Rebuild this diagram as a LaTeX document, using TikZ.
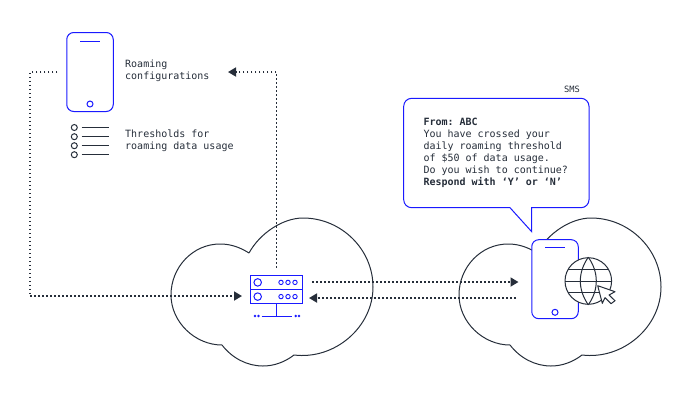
\documentclass[tikz,border=0pt]{standalone}
\usepackage{fontspec}
\usepackage{xcolor}
\setmonofont{DejaVu Sans Mono}
\usetikzlibrary{arrows.meta, positioning, shapes, calc}
\definecolor{lineblue}{RGB}{26, 26, 255}
\definecolor{inkgray}{RGB}{38, 46, 58}

\tikzset{
    cloudshape/.pic={
        \draw[cloudline] (249,253) .. controls (260,233) and (283,218) .. (303,218)
            .. controls (341,218) and (373,249) .. (373,287)
            .. controls (373,327) and (335,360) .. (294,355)
            .. controls (285,362) and (274,366) .. (263,366)
            .. controls (247,366) and (232,358) .. (222,345)
            .. controls (195,345) and (171,322) .. (171,295)
            .. controls (171,267) and (193,244) .. (220,244)
            .. controls (232,244) and (241,248) .. (249,253);
    }
}

\begin{document}
\begin{tikzpicture}[
    x=1pt, y=-1pt,
    cloudline/.style={draw=inkgray, line width=1pt},
    phonebody/.style={draw=lineblue, fill=white, line width=1pt, rounded corners=7pt, minimum width=46.5pt, minimum height=79pt, inner sep=0pt},
    phonebtn/.style={circle, draw=lineblue, fill=white, line width=1pt, minimum size=6pt, inner sep=0pt},
    blueline/.style={draw=lineblue, line width=1pt},
    flow/.style={draw=inkgray, line width=1.7pt, dash pattern=on 1.6pt off 2.4pt, -{Triangle[length=8pt, width=9pt]}},
    flowplain/.style={draw=inkgray, line width=1.7pt, dash pattern=on 1.6pt off 2.4pt},
    listdot/.style={circle, draw=inkgray, line width=1pt, minimum size=6pt, inner sep=0pt},
    label/.style={anchor=west, align=left, inner sep=0pt, text=inkgray, font=\ttfamily\fontsize{10}{12}\selectfont},
    serverbox/.style={draw=lineblue, line width=1pt, minimum width=51.5pt, minimum height=14pt, inner sep=0pt},
    bigled/.style={circle, draw=lineblue, line width=1pt, minimum size=7.5pt, inner sep=0pt},
    smallled/.style={circle, draw=lineblue, line width=0.9pt, minimum size=4.4pt, inner sep=0pt},
    netdot/.style={circle, fill=lineblue, minimum size=2.8pt, inner sep=0pt}
]
\useasboundingbox (0,0) rectangle (690,400);

% Clouds
\pic (cloudA) at (0,0) {cloudshape};
\pic (cloudB) at (288,0) {cloudshape};

% Server
\node[serverbox] (srvtop) at (276.5,282.4) {};
\node[serverbox] (srvbot) at (276.5,296.6) {};
\foreach \rowname/\yy in {a/282.4, b/296.6} {
    \node[bigled] (led\rowname) at (257.7,\yy) {};
    \foreach \xx in {281,288,295} {
        \node[smallled] at (\xx,\yy) {};
    }
}
\coordinate (nethub) at (276.5,316);
\draw[blueline] (srvbot.south) -- (nethub);
\draw[blueline] (261.7,316) -- (291.7,316);
\foreach \xx in {255,258.5,295.7,299} {
    \node[netdot] at (\xx,316) {};
}

% Roaming phone
\node[phonebody] (phoneA) at (90,72) {};
\draw[blueline] (80,41) -- (100,41);
\node[phonebtn] (btnA) at (90,104) {};
\node[label] (cfgtext) at (125,71) {Roaming\\configurations};

% Thresholds list
\foreach \yy in {127.5,136.7,145.7,154.7} {
    \node[listdot] at (74.3,\yy) {};
    \draw[cloudline] (81.7,\yy) -- (108.7,\yy);
}
\node[label] (thrtext) at (125,141) {Thresholds for\\roaming data usage};

% Dotted connectors
\coordinate (busL) at (30,296);
\coordinate (srvin) at (242,296);
\coordinate (cfgin) at (228,72);
\coordinate (outA) at (312,282);
\coordinate (outB) at (518.5,282);
\coordinate (backB) at (516,298);
\coordinate (backA) at (309,298);
\draw[flowplain, shorten <=9pt] (phoneA.west) -| (busL);
\draw[flow] (busL) -- (srvin);
\draw[flow, shorten <=7pt] (srvtop.north) |- (cfgin);
\draw[flow] (outA) -- (outB);
\draw[flow] (backB) -- (backA);

% SMS bubble
\draw[blueline, fill=white] (510,207.7) -- (531.7,231.7) -- (531.7,207.7)
    [rounded corners=8pt] -- (589,207.7) -- (589,98.3) -- (403.7,98.3) -- (403.7,207.7) [sharp corners] -- cycle;
\node[label, anchor=north west] (smstext) at (423.3,118.2) {\bfseries From: ABC\\You have crossed your\\daily roaming threshold\\of \$50 of data usage.\\Do you wish to continue?\\\bfseries Respond with ‘Y’ or ‘N’};
\node[label, anchor=center, font=\ttfamily\fontsize{8.7}{12}\selectfont] (smslabel) at (572,89) {SMS};

% Phone in the visited network
\node[phonebody] (phoneB) at (555,279.2) {};
\draw[blueline] (545,247.7) -- (565,247.7);
\node[phonebtn] (btnB) at (555,312.3) {};

% Globe
\node[circle, draw=inkgray, fill=white, line width=1pt, minimum size=46.6pt, inner sep=0pt] (globe) at (588.3,281) {};
\draw[cloudline] (globe.north) to[bend left=35] (globe.south);
\draw[cloudline] (globe.north) to[bend right=35] (globe.south);
\draw[cloudline] (568,269.5) -- (608.6,269.5);
\draw[cloudline] (globe.west) -- (globe.east);
\draw[cloudline] (568,292.5) -- (608.6,292.5);

% Cursor
\draw[cloudline, fill=white, line join=round] (597.7,285.7) -- (615,291.7) -- (609,295) -- (615,300.7) -- (611,303.7) -- (605,297.7) -- (602.3,303.3) -- cycle;
\end{tikzpicture}
\end{document}
